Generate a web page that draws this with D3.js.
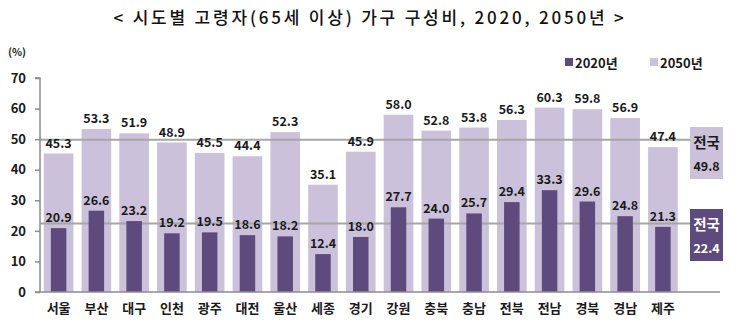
<!DOCTYPE html>
<html>
<head>
<meta charset="utf-8">
<script src="https://cdn.jsdelivr.net/npm/d3@7"></script>
<style>
  html, body { margin: 0; padding: 0; background: #fff; }
  svg { display: block; }
  text { font-family: "Noto Sans CJK KR", "Noto Sans", sans-serif; }
</style>
</head>
<body>
<svg id="chart" width="740" height="331"></svg>
<script>
// 시도별 고령자 가구 구성비 (%)
const regions = ["서울","부산","대구","인천","광주","대전","울산","세종","경기","강원","충북","충남","전북","전남","경북","경남","제주"];
const values2020 = [20.9, 26.6, 23.2, 19.2, 19.5, 18.6, 18.2, 12.4, 18.0, 27.7, 24.0, 25.7, 29.4, 33.3, 29.6, 24.8, 21.3];
const values2050 = [45.3, 53.3, 51.9, 48.9, 45.5, 44.4, 52.3, 35.1, 45.9, 58.0, 52.8, 53.8, 56.3, 60.3, 59.8, 56.9, 47.4];
const national2020 = 22.4;
const national2050 = 49.8;
const yTicks = [0, 10, 20, 30, 40, 50, 60, 70];
const seriesNames = ["2020년", "2050년"];

const darkColor = "#5f4a7d";
const lightColor = "#ccc1da";
const textColor = "#1a1a1a";

const svg = d3.select("#chart");

const x = d3.scaleBand().domain(regions).range([40, 681.5]).paddingInner(0.215).paddingOuter(0.1);
const y = d3.scaleLinear().domain([0, 70]).range([292, 78]);

// title
svg.append("text")
  .attr("x", 370).attr("y", 24)
  .attr("text-anchor", "middle")
  .attr("font-size", 17).attr("font-weight", 500)
  .attr("letter-spacing", 2.8)
  .attr("fill", "#111")
  .text("< 시도별 고령자(65세 이상) 가구 구성비, 2020, 2050년 >");

svg.append("text")
  .attr("x", 8).attr("y", 56)
  .attr("font-size", 10.5).attr("font-weight", 700)
  .attr("fill", textColor)
  .text("(%)");

// 2050 bars (wide, behind)
const wideW = x.bandwidth();
svg.append("g").selectAll("rect")
  .data(values2050)
  .join("rect")
  .attr("x", (d, i) => x(regions[i]))
  .attr("y", d => y(d))
  .attr("width", wideW)
  .attr("height", d => y(0) - y(d))
  .attr("fill", lightColor);

// national reference lines
const lineEnd = 690;
[national2050, national2020].forEach(v => {
  svg.append("line")
    .attr("x1", 40).attr("x2", lineEnd)
    .attr("y1", y(v)).attr("y2", y(v))
    .attr("stroke", "#a6a6a6").attr("stroke-width", 2);
});

// 2020 bars (narrow, in front)
const narrowW = 15.5;
svg.append("g").selectAll("rect")
  .data(values2020)
  .join("rect")
  .attr("x", (d, i) => x(regions[i]) + wideW / 2 - narrowW / 2)
  .attr("y", d => y(d))
  .attr("width", narrowW)
  .attr("height", d => y(0) - y(d))
  .attr("fill", darkColor);

// value labels
const labelG = svg.append("g")
  .attr("font-size", 12.5).attr("font-weight", 700)
  .attr("fill", textColor).attr("text-anchor", "middle");
labelG.selectAll("text.v50")
  .data(values2050)
  .join("text")
  .attr("class", "v50")
  .attr("x", (d, i) => x(regions[i]) + wideW / 2)
  .attr("y", d => y(d) - 6)
  .text(d => d.toFixed(1));
labelG.selectAll("text.v20")
  .data(values2020)
  .join("text")
  .attr("class", "v20")
  .attr("x", (d, i) => x(regions[i]) + wideW / 2)
  .attr("y", d => y(d) - 6)
  .text(d => d.toFixed(1));

// y axis
const yAxis = d3.axisLeft(y).tickValues(yTicks).tickSize(5).tickPadding(9);
const yg = svg.append("g").attr("transform", "translate(40,0)").call(yAxis);
yg.select(".domain").attr("stroke", "#8c8c8c").attr("stroke-width", 1.5).attr("d", "M-5,78H0V292");
yg.selectAll(".tick line").attr("stroke", "#8c8c8c").attr("stroke-width", 1.5);
yg.selectAll(".tick text")
  .attr("font-size", 13).attr("font-weight", 700).attr("fill", textColor)
  .attr("font-family", "'Noto Sans CJK KR', sans-serif");

// x axis
const xAxis = d3.axisBottom(x).tickSize(0).tickPadding(12);
const xg = svg.append("g").attr("transform", "translate(0,292)").call(xAxis);
xg.select(".domain").attr("stroke", "#8c8c8c").attr("stroke-width", 1.5).attr("d", "M35,0H720");
xg.selectAll(".tick text")
  .attr("font-size", 13).attr("font-weight", 700).attr("fill", textColor)
  .attr("font-family", "'Noto Sans CJK KR', sans-serif");

// national boxes
function nationalBox(v, fill, txtFill, top) {
  const g = svg.append("g");
  g.append("rect").attr("x", 690).attr("y", top).attr("width", 33).attr("height", 52).attr("fill", fill);
  g.append("text").attr("x", 706.5).attr("y", top + 21)
    .attr("text-anchor", "middle").attr("font-size", 14.5).attr("font-weight", 700)
    .attr("fill", txtFill).text("전국");
  g.append("text").attr("x", 706.5).attr("y", top + 44)
    .attr("text-anchor", "middle").attr("font-size", 12.5).attr("font-weight", 700)
    .attr("fill", txtFill).text(v.toFixed(1));
}
nationalBox(national2050, lightColor, textColor, 127);
nationalBox(national2020, darkColor, "#ffffff", 209);

// legend
const legend = svg.append("g").attr("font-size", 13).attr("font-weight", 700).attr("fill", textColor);
[[seriesNames[0], darkColor, 565], [seriesNames[1], lightColor, 650]].forEach(([name, c, lx]) => {
  legend.append("rect").attr("x", lx).attr("y", 58).attr("width", 8).attr("height", 8).attr("fill", c);
  legend.append("text").attr("x", lx + 10).attr("y", 67.5).text(name);
});
</script>
</body>
</html>
